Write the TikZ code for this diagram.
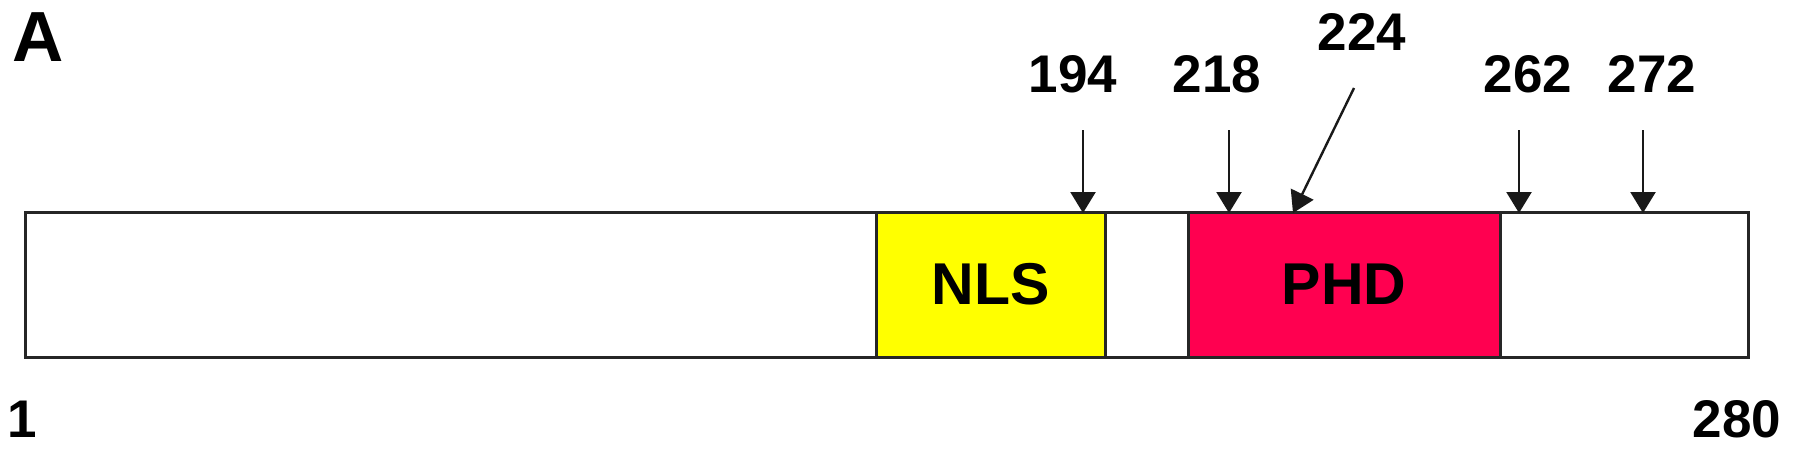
\documentclass[tikz,border=0pt]{standalone}
\usepackage{fontspec}
\setmainfont{Liberation Sans}
\usetikzlibrary{arrows.meta}
\definecolor{nlsyellow}{RGB}{255,255,0}
\definecolor{phdred}{RGB}{255,0,80}
\begin{document}
\begin{tikzpicture}[x=1pt,y=-1pt,
  every node/.style={inner sep=0pt,outer sep=0pt},
  bar/.style={draw=black!85,line width=3pt,rectangle,anchor=north west},
  numlbl/.style={font=\fontsize{53}{53}\selectfont\bfseries},
  domlbl/.style={font=\fontsize{59}{59}\selectfont\bfseries},
  siteArrow/.style={draw=black!90,line width=2.4pt,-{Triangle[length=21pt,width=25pt]}}
]
\useasboundingbox (0,0) rectangle (1795,450);
% protein bar
\node[bar,fill=white,minimum width=1723pt,minimum height=145pt] (prot) at (25,212) {};
\node[bar,fill=nlsyellow,minimum width=229pt,minimum height=145pt] (nls) at (876,212) {};
\node[bar,fill=phdred,minimum width=312pt,minimum height=145pt] (phd) at (1188,212) {};
\node[domlbl] (nlstext) at (nls.center) {NLS};
\node[domlbl] (phdtext) at (phd.center) {PHD};
% panel letter and ends
\node[font=\fontsize{71}{71}\selectfont\bfseries] (panel) at (38,37) {A};
\node[numlbl] (n1) at (22,419) {1};
\node[numlbl] (n280) at (1737,419) {280};
% site labels
\node[numlbl] (l194) at (1073,74) {194};
\node[numlbl] (l218) at (1217,74) {218};
\node[numlbl] (l224) at (1362,32) {224};
\node[numlbl] (l262) at (1528,74) {262};
\node[numlbl] (l272) at (1652,74) {272};
% arrow coordinates
\coordinate (t194) at (1083,130);
\coordinate (h194) at (1083,213);
\coordinate (t218) at (1229,130);
\coordinate (h218) at (1229,213);
\coordinate (t224) at (1354,88);
\coordinate (h224) at (1293,213);
\coordinate (t262) at (1519,130);
\coordinate (h262) at (1519,213);
\coordinate (t272) at (1643,130);
\coordinate (h272) at (1643,213);
\draw[siteArrow] (t194) -- (h194);
\draw[siteArrow] (t218) -- (h218);
\draw[siteArrow] (t224) -- (h224);
\draw[siteArrow] (t262) -- (h262);
\draw[siteArrow] (t272) -- (h272);
\end{tikzpicture}
\end{document}
